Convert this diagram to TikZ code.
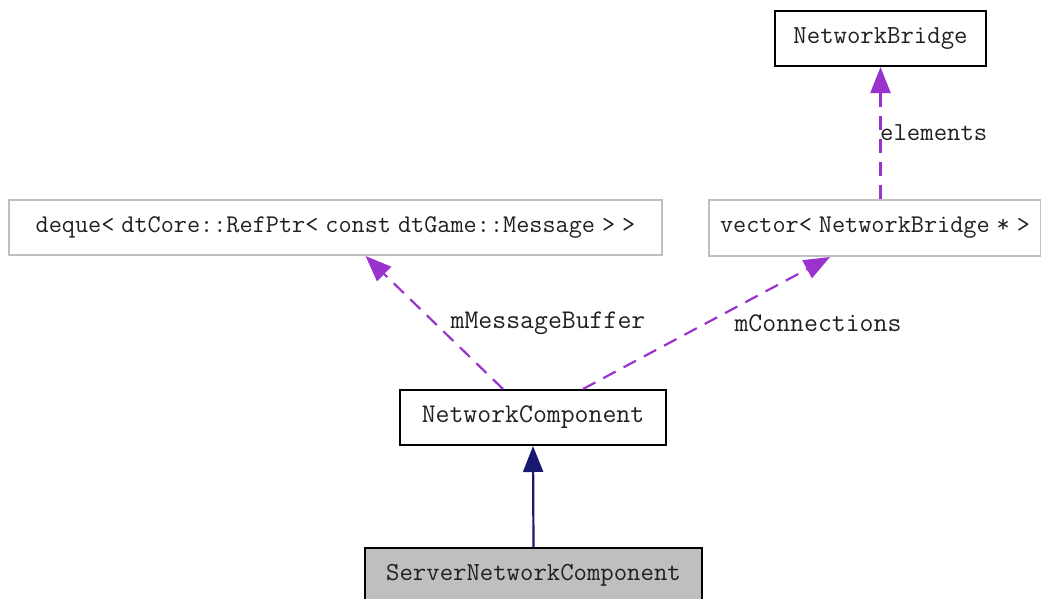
\documentclass[tikz,border=0pt]{standalone}
\usetikzlibrary{arrows.meta}
\definecolor{usecol}{HTML}{9A32CD}
\definecolor{inhcol}{HTML}{191970}
\definecolor{boxgray}{HTML}{BFBFBF}
\definecolor{txtcol}{HTML}{202020}
\newcommand{\ttsize}[1]{\ttfamily\fontsize{#1}{#1}\selectfont}
\newcommand{\tightsp}{\ttsize{25.5}\spaceskip=7pt\relax}

\begin{document}
\begin{tikzpicture}[x=1pt,y=-1pt,
  cls/.style={draw=black,line width=2pt,inner sep=0pt,minimum height=55pt,
    text=txtcol,font=\ttsize{26}},
  ext/.style={cls,draw=boxgray,font=\tightsp},
  lbl/.style={text=txtcol,font=\ttsize{27},inner sep=0pt},
  use/.style={draw=usecol,line width=2.2pt,dash pattern=on 14pt off 9pt,
    -{Triangle[length=26pt,width=20pt]}},
  inh/.style={draw=inhcol,line width=2.2pt,-{Triangle[length=26pt,width=20pt]}}]
\useasboundingbox (0,0) rectangle (1041,598);

% classes
\node[cls,minimum width=211pt] (bridge) at (880.5,38.5) {NetworkBridge};
\node[ext,minimum width=653pt] (deque) at (335.5,227.5)
  {deque< dtCore::RefPtr< const dtGame::Message > >};
\node[ext,minimum width=332pt,minimum height=56pt] (vec) at (875,228)
  {vector< NetworkBridge * >};
\node[cls,minimum width=266pt,font=\ttsize{27}] (netcomp) at (533,417.5)
  {NetworkComponent};
\node[cls,fill=boxgray,minimum width=337pt] (server) at (533.5,575.5)
  {ServerNetworkComponent};

% edges
\draw[use] (vec.north -| bridge.south) -- (bridge.south);
\draw[use] ([xshift=-30pt]netcomp.north) -- ([xshift=30pt]deque.south);
\draw[use] ([xshift=50pt]netcomp.north) -- ([xshift=-45pt]vec.south);
\draw[inh] (server.north) -- (netcomp.south);

% labels
\node[lbl,anchor=west,font=\ttsize{26}] (lelem) at (880,133) {elements};
\node[lbl] (lbuf) at (548,323) {mMessageBuffer};
\node[lbl] (lconn) at (818,323) {mConnections};
\end{tikzpicture}
\end{document}
